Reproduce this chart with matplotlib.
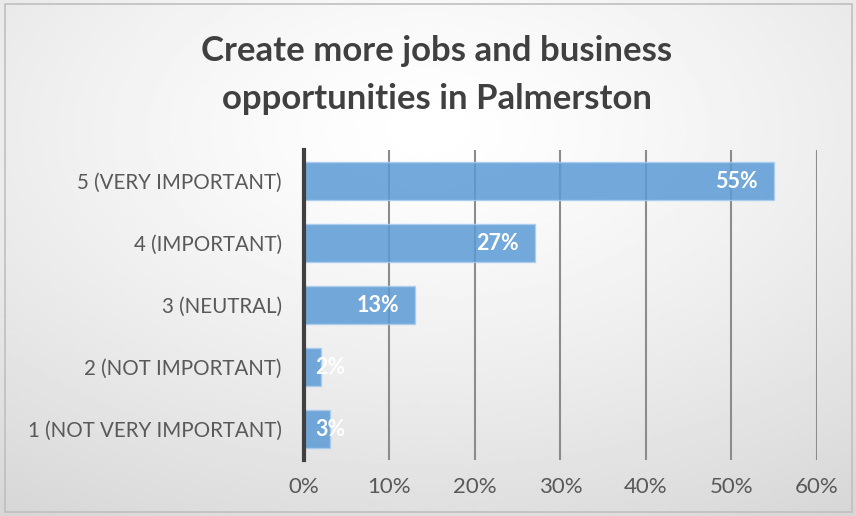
import numpy as np
import matplotlib
matplotlib.use("Agg")
import matplotlib.pyplot as plt
from matplotlib.patches import Rectangle

# Data
categories = ["5 (VERY IMPORTANT)", "4 (IMPORTANT)", "3 (NEUTRAL)",
              "2 (NOT IMPORTANT)", "1 (NOT VERY IMPORTANT)"]
values = [55, 27, 13, 2, 3]
xticks = [0, 10, 20, 30, 40, 50, 60]
title = "Create more jobs and business\nopportunities in Palmerston"

plt.rcParams['font.family'] = ['Lato', 'DejaVu Sans']

fig = plt.figure(figsize=(8.56, 5.16), dpi=100)

# background gradient (radial, light at the top centre)
bg = fig.add_axes([0, 0, 1, 1])
yy, xx = np.mgrid[0:1:200j, 0:1:300j]
r = np.sqrt(((xx - 0.5) / 0.9) ** 2 + ((yy - 0.25) / 0.9) ** 2)
shade = 1.0 - 0.16 * np.clip(r, 0, 1) ** 1.3
bg.imshow(shade, cmap='gray', vmin=0, vmax=1, extent=[0, 1, 0, 1],
          origin='upper', aspect='auto')
bg.set_axis_off()
bg.add_patch(Rectangle((0.006, 0.008), 0.989, 0.985, fill=False,
                       edgecolor='#bfbfbf', lw=1.2, transform=bg.transAxes))

ax = fig.add_axes([0.3551, 0.1085, 0.5993, 0.6008])
ax.patch.set_alpha(0)

y = np.arange(len(categories))
ax.barh(y, values, height=0.61, color='#5B9BD5', alpha=0.85,
        edgecolor='#a9cdee', lw=1, zorder=3)

for yi, v in zip(y, values):
    ax.text(max(v - 1.9, 4.8), yi, f"{v}%", ha='right', va='center',
            color='white', fontsize=15.5, fontweight='bold', zorder=4)

ax.set_xlim(0, 60)
ax.set_ylim(len(categories) - 0.5, -0.5)
ax.set_xticks(xticks)
ax.set_xticklabels([f"{t}%" for t in xticks])
ax.set_yticks(y)
ax.set_yticklabels(categories)
ax.grid(axis='x', color='#8c8c8c', lw=1.5, zorder=1)
ax.set_axisbelow(True)
for s in ['top', 'right', 'bottom']:
    ax.spines[s].set_visible(False)
ax.spines['left'].set_color('#404040')
ax.spines['left'].set_linewidth(3)
ax.spines['left'].set_zorder(5)
ax.tick_params(axis='both', length=0, labelcolor='#595959')
ax.tick_params(axis='x', pad=12, labelsize=16)
ax.tick_params(axis='y', pad=16, labelsize=14.8)

fig.text(0.51, 0.855, title, ha='center', va='center', fontsize=25,
         fontweight='bold', color='#404040', linespacing=1.6)

fig.savefig('out.png', dpi=100)
